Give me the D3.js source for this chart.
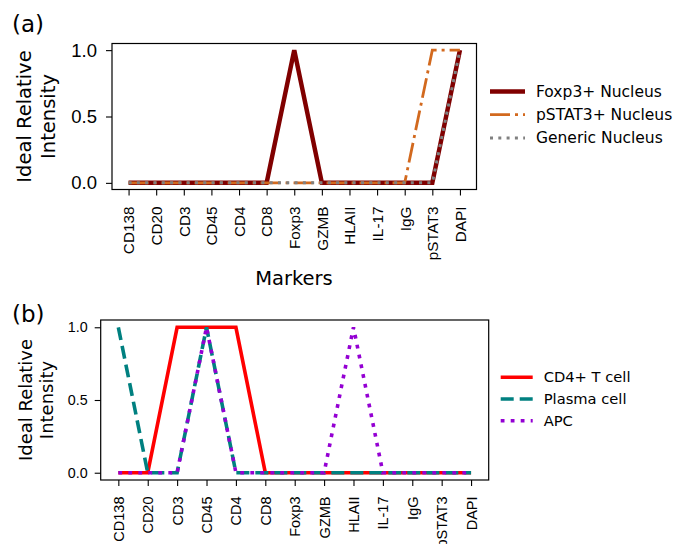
<!DOCTYPE html>
<html><head><meta charset="utf-8">
<script src="https://cdn.jsdelivr.net/npm/d3@7"></script>
<style>body{margin:0;background:#fff}svg{font-family:"DejaVu Sans",sans-serif}</style>
</head><body><svg id="c" width="680" height="544"></svg>
<script>
const markers = ["CD138","CD20","CD3","CD45","CD4","CD8","Foxp3","GZMB","HLAII","IL-17","IgG","pSTAT3","DAPI"];
const yTicks = [0, 0.5, 1.0];
const namesA = ["Foxp3+ Nucleus","pSTAT3+ Nucleus","Generic Nucleus"];
const foxp3Nucleus  = [0,0,0,0,0,0,1,0,0,0,0,0,1];
const pstat3Nucleus = [0,0,0,0,0,0,0,0,0,0,0,1,1];
const genericNucleus= [0,0,0,0,0,0,0,0,0,0,0,0,1];
const namesB = ["CD4+ T cell","Plasma cell","APC"];
const cd4TCell   = [0,0,1,1,1,0,0,0,0,0,0,0,0];
const plasmaCell = [1,0,0,1,0,0,0,0,0,0,0,0,0];
const apc        = [0,0,0,1,0,0,0,0,1,0,0,0,0];

const svg = d3.select("#c");

function panel(o){
  const g = svg.append("g");
  const x = d3.scaleLinear().domain([-0.6, 12.6]).range([o.left, o.right]);
  const y = d3.scaleLinear().domain([-0.05, 1.05]).range([o.bottom, o.top]);
  const line = d3.line().x((d,i)=>x(i)).y(d=>y(d));
  o.series.forEach(s=>{
    g.append("path").datum(s.values).attr("d", line)
      .attr("fill","none").attr("stroke", s.color).attr("stroke-width", s.width)
      .attr("stroke-dasharray", s.dash || null).attr("stroke-linejoin","miter");
  });
  const xa = g.append("g").attr("transform",`translate(0,${o.bottom})`)
    .call(d3.axisBottom(x).tickValues(d3.range(markers.length)).tickFormat(i=>markers[i]).tickSize(o.tick).tickPadding(3));
  xa.select(".domain").remove();
  xa.selectAll(".tick line").attr("stroke","#000").attr("stroke-width",1.1);
  xa.selectAll("text").attr("font-size", o.xfs).attr("fill","#000")
    .attr("transform","rotate(-90)").attr("text-anchor","end")
    .attr("x", -(o.tick+o.xpad)).attr("y", 0).attr("dy","0.35em");
  const ya = g.append("g").attr("transform",`translate(${o.left},0)`)
    .call(d3.axisLeft(y).tickValues(yTicks).tickFormat(d3.format(".1f")).tickSize(o.tick).tickPadding(o.ypad));
  ya.select(".domain").remove();
  ya.selectAll(".tick line").attr("stroke","#000").attr("stroke-width",1.1);
  ya.selectAll("text").attr("font-size", o.yfs).attr("fill","#000");
  g.append("rect").attr("x",o.left).attr("y",o.top).attr("width",o.right-o.left).attr("height",o.bottom-o.top)
    .attr("fill","none").attr("stroke","#000").attr("stroke-width",1.2);
  const cy = (o.top+o.bottom)/2;
  g.append("text").attr("transform",`translate(${o.ylx1},${cy}) rotate(-90)`).attr("text-anchor","middle")
    .attr("font-size",o.lfs).text("Ideal Relative");
  g.append("text").attr("transform",`translate(${o.ylx2},${cy}) rotate(-90)`).attr("text-anchor","middle")
    .attr("font-size",o.lfs).text("Intensity");
  g.append("text").attr("x",12).attr("y",o.plabY).attr("font-size",23).text(o.plab);
  o.series.forEach((s,i)=>{
    const ly = o.legY + i*o.legDy;
    g.append("line").attr("x1",o.legX).attr("x2",o.legX+o.legW).attr("y1",ly).attr("y2",ly)
      .attr("stroke",s.color).attr("stroke-width",s.width).attr("stroke-dasharray",s.dash||null);
    g.append("text").attr("x",o.legX+o.legW+11).attr("y",ly).attr("dy","0.35em")
      .attr("font-size",o.legfs).text(s.name);
  });
  return {x,y,g};
}

const A = panel({
  left:112, right:476.5, top:43.5, bottom:189.5, tick:6, xpad:11, ypad:9,
  xfs:15.3, yfs:18.5, lfs:19.5, ylx1:31, ylx2:55, plab:"(a)", plabY:32,
  legX:490, legW:35, legY:91.5, legDy:23.2, legfs:15.5,
  series:[
    {name:namesA[0], values:foxp3Nucleus, color:"#800000", width:4.5},
    {name:namesA[1], values:pstat3Nucleus, color:"#D2691E", width:2.8, dash:"20,5,3,5"},
    {name:namesA[2], values:genericNucleus, color:"#808080", width:3, dash:"3,5.3"}
  ]
});
A.g.append("text").attr("x",294).attr("y",285).attr("text-anchor","middle").attr("font-size",19.5).text("Markers");

panel({
  left:100.7, right:488.7, top:320, bottom:480, tick:6, xpad:10.5, ypad:7,
  xfs:14.5, yfs:14.3, lfs:18, ylx1:32, ylx2:53, plab:"(b)", plabY:322,
  legX:500.7, legW:32, legY:377.3, legDy:21.7, legfs:14.7,
  series:[
    {name:namesB[0], values:cd4TCell, color:"#FF0000", width:3.6},
    {name:namesB[1], values:plasmaCell, color:"#008080", width:3.6, dash:"13,6"},
    {name:namesB[2], values:apc, color:"#9400D3", width:3.6, dash:"3.8,6.2"}
  ]
});
</script></body></html>
